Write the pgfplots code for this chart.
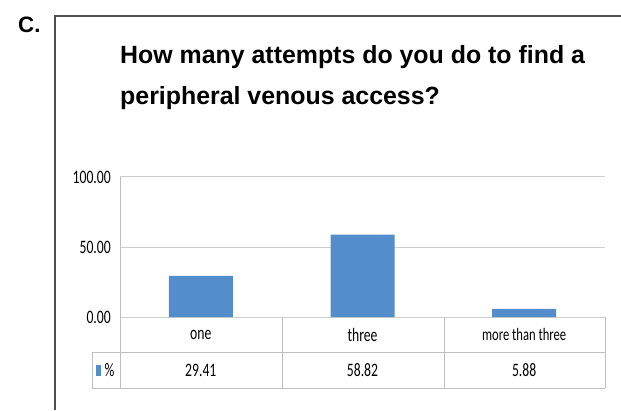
\documentclass[border=0pt]{standalone}
\usepackage{fontspec}
\setmainfont{Liberation Sans}
\newfontfamily\narrowfont[FakeStretch=0.72]{Carlito}
\usepackage{pgfplots}
\usepackage{pgfplotstable}
\pgfplotsset{compat=1.18}

\definecolor{barblue}{RGB}{84,141,203}
\definecolor{gridgray}{RGB}{205,205,205}
\definecolor{tablegray}{RGB}{190,190,190}
\definecolor{framegray}{RGB}{80,80,80}

% share of answers (%) per category
\pgfplotstableread{
x y
0 29.41
1 58.82
2 5.88
}\attempts

\begin{document}
\begin{tikzpicture}[x=1pt,y=1pt]
\useasboundingbox (0,0) rectangle (621,410);

% panel letter and frame
\node[anchor=base west, inner sep=0] at (18,377)
  {\fontsize{22.3}{26}\selectfont\bfseries C.};
\draw[framegray, line width=1.3pt] (55,0) -- (55,394) -- (621,394);

% title
\node[anchor=base west, inner sep=0] at (120,346)
  {\fontsize{24.9}{30}\selectfont\bfseries How many attempts do you do to find a};
\node[anchor=base west, inner sep=0] at (120,305)
  {\fontsize{24.9}{30}\selectfont\bfseries peripheral venous access?};

\begin{axis}[
  at={(120pt,93pt)}, anchor=south west,
  scale only axis, width=485pt, height=140pt,
  xmin=-0.5, xmax=2.5, ymin=0, ymax=100,
  clip=false,
  axis line style={draw=none},
  tick style={draw=none},
  ymajorgrids, grid style={gridgray, line width=1pt},
  ytick={0,50,100},
  /pgf/number format/assume math mode=true,
  yticklabel={\narrowfont\fontsize{19}{22}\selectfont
    \pgfmathprintnumber[fixed,fixed zerofill,precision=2]{\tick}},
  yticklabel style={anchor=east, inner sep=0pt, xshift=-9pt},
  xtick={0,1,2},
  xticklabels={{one},{three},{\fontsize{17.5}{20}\selectfont more than three}},
  xticklabel style={anchor=center, inner sep=0pt, yshift=-17.5pt,
    font=\narrowfont\fontsize{19}{22}\selectfont},
]
\addplot[ybar, bar width=64pt, fill=barblue, draw=none] table[x=x, y=y] {\attempts};
% value row of the data table
\addplot[draw=none, mark=none,
  point meta=\thisrow{y},
  nodes near coords={\narrowfont\fontsize{19}{22}\selectfont
    \pgfmathprintnumber[fixed,fixed zerofill,precision=2]{\pgfplotspointmeta}},
  every node near coord/.style={anchor=center, inner sep=0pt},
] table[x=x, y expr=-37.86] {\attempts};
\end{axis}

% data table grid
\begin{scope}[tablegray, line width=1pt]
\draw (92,58) -- (605,58);
\draw (92,22) -- (605,22);
\draw (92,58) -- (92,22);
\draw (120,233) -- (120,22);
\draw (282,93) -- (282,22);
\draw (444,93) -- (444,22);
\draw (605,93) -- (605,22);
\end{scope}

% legend key
\fill[barblue] (96,34.5) rectangle (101,45.5);
\node[anchor=west, inner sep=0] at (104.5,40)
  {\narrowfont\fontsize{19}{22}\selectfont\%};
\end{tikzpicture}
\end{document}
